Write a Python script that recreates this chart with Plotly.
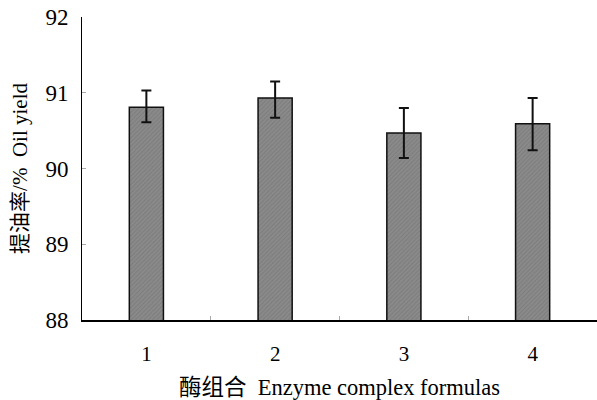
import plotly.graph_objects as go

categories = ["1", "2", "3", "4"]
oil_yield = [90.81, 90.93, 90.47, 90.59]
err_plus = [0.22, 0.22, 0.33, 0.34]
err_minus = [0.20, 0.26, 0.33, 0.35]
y_ticks = [88, 89, 90, 91, 92]

font_fam = "Liberation Serif, Times New Roman, Noto Sans CJK SC, serif"

fig = go.Figure()
fig.add_trace(go.Bar(
    x=categories, y=oil_yield, width=0.265,
    marker=dict(color="#808080", line=dict(color="#111111", width=1.5),
                pattern=dict(shape="/", fgcolor="#6a6a6a", bgcolor="#8a8a8a", size=3, solidity=0.3)),
    error_y=dict(type="data", symmetric=False, array=err_plus, arrayminus=err_minus,
                 color="#111111", thickness=2, width=5),
))
fig.update_layout(
    width=597, height=400,
    margin=dict(l=82, r=0, t=17, b=80),
    plot_bgcolor="white", paper_bgcolor="white",
    font=dict(family=font_fam, size=20, color="black"),
    showlegend=False,
    xaxis=dict(type="category", range=[-0.5, 3.5], showline=True, linecolor="black", linewidth=1.5,
               ticks="inside", tickson="boundaries", ticklen=4, tickcolor="#aaaaaa",
               showgrid=False, tickfont=dict(size=21), automargin=False, ticklabelstandoff=14,
               title=dict(text="酶组合  Enzyme complex formulas", font=dict(size=22.5), standoff=15)),
    yaxis=dict(range=[88, 92], tickvals=y_ticks, showline=True, linecolor="black", linewidth=1,
               ticks="inside", ticklen=4, tickcolor="#aaaaaa", showgrid=False, zeroline=False,
               tickfont=dict(size=23), ticklabelstandoff=8, automargin=False, ticklabeloverflow="allow",
               title=dict(text="提油率/%  Oil yield", font=dict(size=21), standoff=12)),
)
fig.write_html("out.html", config={"displayModeBar": False},
               post_script="document.body.style.margin='0';")
